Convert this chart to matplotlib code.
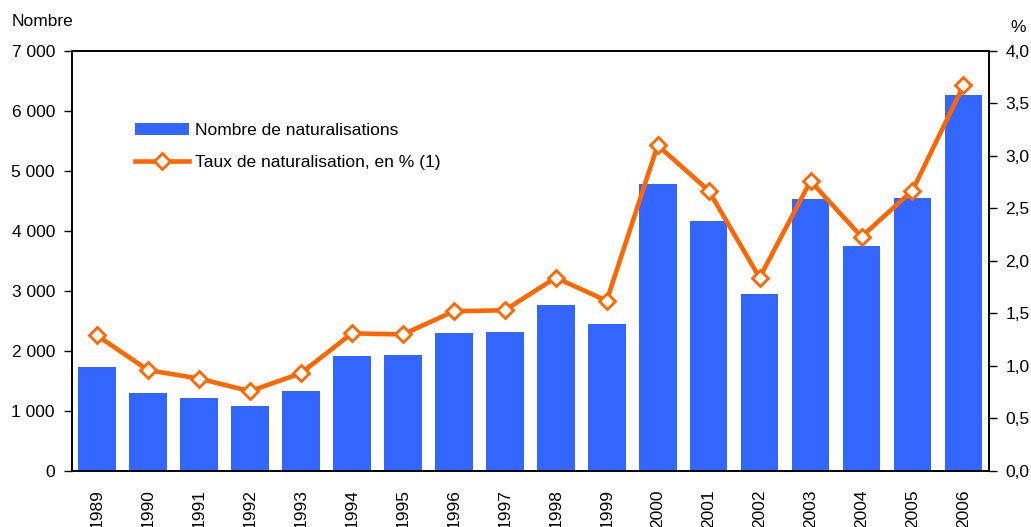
import matplotlib
matplotlib.use("Agg")
import matplotlib.pyplot as plt
from matplotlib.ticker import FuncFormatter, MultipleLocator

years = [str(y) for y in range(1989, 2007)]
naturalisations = [1730, 1300, 1215, 1080, 1333, 1915, 1930, 2300, 2315,
                   2765, 2450, 4780, 4165, 2950, 4530, 3750, 4550, 6265]
taux = [1.29, 0.96, 0.88, 0.76, 0.93, 1.31, 1.30, 1.52, 1.53,
        1.84, 1.62, 3.10, 2.67, 1.84, 2.76, 2.23, 2.67, 3.67]

bar_label = "Nombre de naturalisations"
line_label = "Taux de naturalisation, en % (1)"

plt.rcParams["font.family"] = ["Liberation Sans", "DejaVu Sans"]
plt.rcParams["font.size"] = 12.5

fig = plt.figure(figsize=(10.31, 5.27), dpi=100)
ax = fig.add_axes([0.0694, 0.1063, 0.8898, 0.7973])
ax2 = ax.twinx()

x = range(len(years))
bars = ax.bar(x, naturalisations, width=0.74, color="#3366FF", label=bar_label, zorder=2)
(line,) = ax2.plot(x, taux, color="#FF6600", linewidth=3.3, marker="D", markersize=8,
                   markerfacecolor="white", markeredgecolor="#FF6600",
                   markeredgewidth=2, label=line_label, zorder=3)

ax.set_xlim(-0.5, len(years) - 0.5)
ax.set_ylim(0, 7000)
ax2.set_ylim(0, 4.0)
ax.yaxis.set_major_locator(MultipleLocator(1000))
ax2.yaxis.set_major_locator(MultipleLocator(0.5))
ax.yaxis.set_major_formatter(FuncFormatter(lambda v, p: f"{int(v):,}".replace(",", " ")))
ax2.yaxis.set_major_formatter(FuncFormatter(lambda v, p: f"{v:.1f}".replace(".", ",")))

ax.set_xticks(list(x))
ax.set_xticklabels(years, rotation=90, va="top")
ax.tick_params(axis="x", length=0, pad=13)
ax.tick_params(axis="y", direction="out", length=6, width=1, pad=6)
ax2.tick_params(axis="y", direction="out", length=6, width=1, pad=6)

for a in (ax, ax2):
    for s in a.spines.values():
        s.set_linewidth(1.2)
        s.set_color("black")

fig.text(12 / 1031, 1 - 22 / 527, "Nombre", ha="left", va="center", fontsize=12.5)
fig.text(1018 / 1031, 1 - 28 / 527, "%", ha="center", va="center", fontsize=12.5)

ax2.legend(handles=[bars, line], loc="upper left", bbox_to_anchor=(0.069, 0.829),
           frameon=False, borderpad=0, borderaxespad=0, handlelength=3.1,
           handletextpad=0.35, labelspacing=1.0, fontsize=12.5)

fig.savefig("out.png", dpi=100)
